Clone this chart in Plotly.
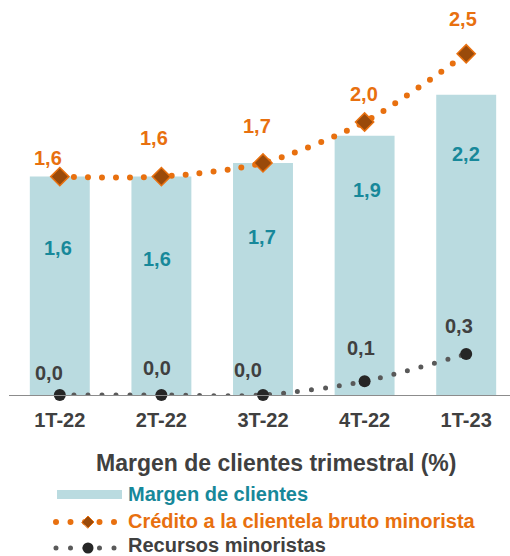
import plotly.graph_objects as go

# ---------------- data ----------------
categories = ["1T-22", "2T-22", "3T-22", "4T-22", "1T-23"]
margen_clientes = [1.6, 1.6, 1.7, 1.9, 2.2]
credito_minorista = [1.6, 1.6, 1.7, 2.0, 2.5]
recursos_minoristas = [0.0, 0.0, 0.0, 0.1, 0.3]

margen_labels = ["1,6", "1,6", "1,7", "1,9", "2,2"]
credito_labels = ["1,6", "1,6", "1,7", "2,0", "2,5"]
recursos_labels = ["0,0", "0,0", "0,0", "0,1", "0,3"]

title_text = "Margen de clientes trimestral (%)"
legend_names = ["Margen de clientes", "Crédito a la clientela bruto minorista", "Recursos minoristas"]

# ---------------- style ----------------
BAR = "#badbe0"
TEAL = "#17889a"
ORANGE = "#e8700f"
ORANGE_DARK = "#9a4a0a"
GRAY_LINE = "#595959"
GRAY_MARK = "#262626"
TEXT = "#404040"
FONT = "Liberation Sans, Arial, sans-serif"

W, H = 510, 556
ML, MR, MT, MB = 9, 0, 0, 161
PLOT_W = W - ML - MR
PLOT_H = H - MT - MB
PX_PER_UNIT = 136.5
YMAX = PLOT_H / PX_PER_UNIT

# label offsets (pixels) relative to the data points
margen_shift = [(-2, -71), (-4, -82), (-1, -74), (2, -54), (0, -59)]
credito_shift = [(-12, 19), (-7, 39), (-6, 37), (-1, 28), (-3, 35)]
recursos_shift = [(-11, 22), (-4, 27), (-15, 25), (-4, 33), (-7, 28)]


def px(xp):
    return (xp - ML) / PLOT_W


def py(yp):
    return (H - MB - yp) / PLOT_H


fig = go.Figure()

fig.add_trace(go.Bar(
    x=categories, y=margen_clientes, width=0.59,
    marker=dict(color=BAR, line=dict(width=0)),
    hoverinfo="skip", showlegend=False,
))

fig.add_trace(go.Scatter(
    x=categories, y=recursos_minoristas, mode="lines+markers",
    line=dict(color=GRAY_LINE, width=5, dash="0px,14px", shape="spline", smoothing=0.8),
    marker=dict(symbol="circle", size=12, color=GRAY_MARK),
    hoverinfo="skip", showlegend=False, cliponaxis=False,
))

fig.add_trace(go.Scatter(
    x=categories, y=credito_minorista, mode="lines+markers",
    line=dict(color=ORANGE, width=6, dash="0px,14px", shape="spline", smoothing=0.8),
    marker=dict(symbol="diamond", size=14, color=ORANGE_DARK, line=dict(color=ORANGE, width=1.5)),
    hoverinfo="skip", showlegend=False, cliponaxis=False,
))

annotations = []
lab_font = 20
for i, c in enumerate(categories):
    annotations.append(dict(x=c, y=margen_clientes[i], text=f"<b>{margen_labels[i]}</b>",
                            showarrow=False, xshift=margen_shift[i][0], yshift=margen_shift[i][1],
                            font=dict(family=FONT, size=lab_font, color=TEAL)))
    annotations.append(dict(x=c, y=credito_minorista[i], text=f"<b>{credito_labels[i]}</b>",
                            showarrow=False, xshift=credito_shift[i][0], yshift=credito_shift[i][1],
                            font=dict(family=FONT, size=lab_font, color=ORANGE)))
    annotations.append(dict(x=c, y=recursos_minoristas[i], text=f"<b>{recursos_labels[i]}</b>",
                            showarrow=False, xshift=recursos_shift[i][0], yshift=recursos_shift[i][1],
                            font=dict(family=FONT, size=lab_font, color=TEXT)))

# title
annotations.append(dict(xref="paper", yref="paper", x=px(276), y=py(463), text=f"<b>{title_text}</b>",
                        showarrow=False, xanchor="center", yanchor="middle",
                        font=dict(family=FONT, size=23, color=TEXT)))

# custom legend
leg_rows = [494, 521, 545]
leg_glyph_rows = [494, 522, 548]
leg_colors = [TEAL, ORANGE, TEXT]
for name, yrow, col in zip(legend_names, leg_rows, leg_colors):
    annotations.append(dict(xref="paper", yref="paper", x=px(127), y=py(yrow), text=f"<b>{name}</b>",
                            showarrow=False, xanchor="left", yanchor="middle", borderpad=0,
                            font=dict(family=FONT, size=20, color=col)))

shapes = []
# bar swatch
shapes.append(dict(type="rect", xref="paper", yref="paper", x0=px(57), x1=px(122),
                   y0=py(499), y1=py(490), fillcolor=BAR, line=dict(width=0)))
# orange dotted glyph
shapes.append(dict(type="line", xref="paper", yref="paper", x0=px(56), x1=px(116),
                   y0=py(leg_glyph_rows[1]), y1=py(leg_glyph_rows[1]),
                   line=dict(color=ORANGE, width=6, dash="0px,14.5px")))
d = 6
cx, cy = 88, leg_glyph_rows[1]
shapes.append(dict(type="path", xref="paper", yref="paper",
                   path=f"M {px(cx - d)},{py(cy)} L {px(cx)},{py(cy - d)} L {px(cx + d)},{py(cy)} L {px(cx)},{py(cy + d)} Z",
                   fillcolor=ORANGE_DARK, line=dict(color=ORANGE, width=1)))
# gray dotted glyph
shapes.append(dict(type="line", xref="paper", yref="paper", x0=px(56), x1=px(116),
                   y0=py(leg_glyph_rows[2]), y1=py(leg_glyph_rows[2]),
                   line=dict(color=GRAY_LINE, width=5, dash="0px,14.5px")))
r = 5.5
cy = leg_glyph_rows[2]
shapes.append(dict(type="circle", xref="paper", yref="paper",
                   x0=px(cx - r), x1=px(cx + r), y0=py(cy + r), y1=py(cy - r),
                   fillcolor=GRAY_MARK, line=dict(width=0)))

fig.update_layout(
    width=W, height=H,
    margin=dict(l=ML, r=MR, t=MT, b=MB, pad=0),
    plot_bgcolor="white", paper_bgcolor="white",
    showlegend=False,
    bargap=0.41,
    annotations=annotations,
    shapes=shapes,
    xaxis=dict(type="category", range=[-0.5, -0.5 + PLOT_W / 101.6],
               showline=True, linecolor="#8c8c8c", linewidth=1,
               showgrid=False, zeroline=False, ticks="",
               ticklabelstandoff=7,
               tickfont=dict(family=FONT, size=20, color=TEXT),
               tickvals=categories, ticktext=[f"<b>{c}</b>" for c in categories]),
    yaxis=dict(range=[0, YMAX], visible=False, showgrid=False, zeroline=False),
    font=dict(family=FONT),
)

post = """
document.body.style.margin='0';
var gd=document.getElementById('{plot_id}');
function rc(){
  gd.querySelectorAll('.scatterlayer .js-line, .shapelayer path').forEach(function(p){p.style.strokeLinecap='round';});
}
rc();
gd.on('plotly_afterplot', rc);
"""

fig.write_html("out.html", post_script=post, config={"displayModeBar": False})
